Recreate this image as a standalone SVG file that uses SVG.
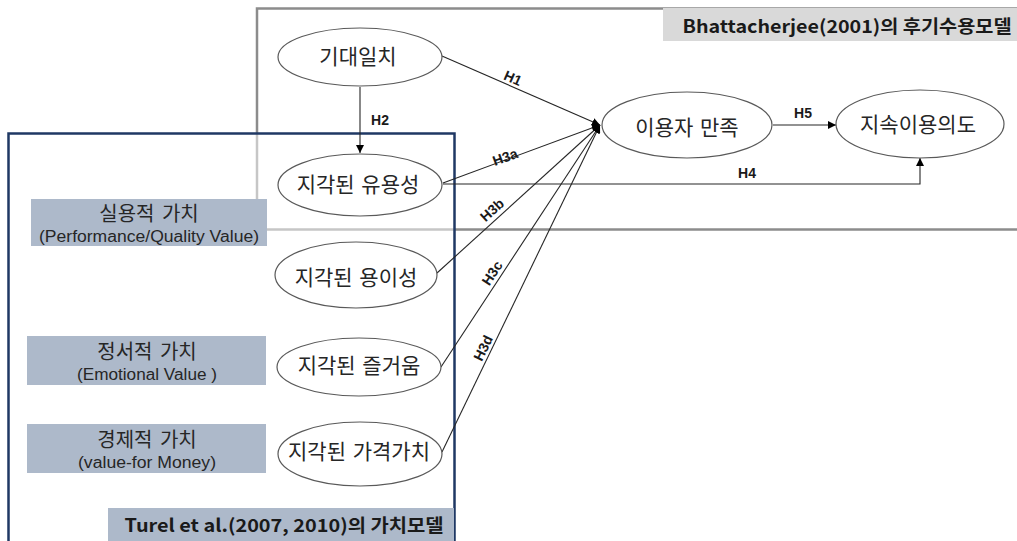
<svg xmlns="http://www.w3.org/2000/svg" width="1017" height="541" viewBox="0 0 1017 541">
<style>
.node{fill:#ffffff;stroke:#595959;stroke-width:1.2}
.nt{font-family:"Noto Sans CJK KR","Liberation Sans",sans-serif;font-size:21px;fill:#262626;text-anchor:middle;dominant-baseline:central;word-spacing:2px}
.lbl{fill:#adb9ca}
.lt{font-family:"Noto Sans CJK KR","Liberation Sans",sans-serif;font-size:20px;fill:#262626;text-anchor:middle;dominant-baseline:central;word-spacing:3px}
.ls{font-family:"Liberation Sans",Arial,sans-serif;font-size:16px;fill:#262626;text-anchor:middle;dominant-baseline:central}
.hd{font-family:"Noto Sans CJK KR","Liberation Sans",sans-serif;font-size:18px;font-weight:bold;fill:#1a1a1a;text-anchor:middle;dominant-baseline:central}
.conn{fill:none;stroke:#262626;stroke-width:1.1}
.h{font-family:"Liberation Sans",Arial,sans-serif;font-size:14px;font-weight:bold;fill:#1a1a1a;text-anchor:middle;dominant-baseline:central}
</style>
<defs>
<marker id="arr" viewBox="0 0 10 10" refX="10" refY="5" markerWidth="8" markerHeight="8" markerUnits="userSpaceOnUse" orient="auto">
<path d="M0,0 L10,5 L0,10 z" fill="#000"/>
</marker>
</defs>
<rect width="1017" height="541" fill="#ffffff"/>
<g id="frame-bhattacherjee">
<rect x="257" y="8.5" width="780" height="221" fill="none" stroke="#8c8c8c" stroke-width="2.5"/>
<rect x="663" y="8" width="354" height="33" fill="#d9d9d9"/>
<text class="hd" x="847" y="25" textLength="329" lengthAdjust="spacingAndGlyphs">Bhattacherjee(2001)의  후기수용모델</text>
</g>
<g id="frame-turel">
<rect x="8.5" y="133.5" width="446" height="430" fill="#ffffff" fill-opacity="0.5" stroke="#1f3864" stroke-width="2.5"/>
<rect x="108" y="508" width="346" height="33" fill="#adb9ca"/>
<text class="hd" x="284" y="524" textLength="319" lengthAdjust="spacingAndGlyphs">Turel et al.(2007,  2010)의  가치모델</text>
</g>
<g id="label-practical">
<rect class="lbl" x="31" y="199" width="236" height="47"/>
<text class="lt" x="149" y="212">실용적 가치</text>
<text class="ls" x="149" y="236" textLength="220" lengthAdjust="spacingAndGlyphs">(Performance/Quality Value)</text>
</g>
<g id="label-emotional">
<rect class="lbl" x="27" y="336" width="239" height="49"/>
<text class="lt" x="147" y="350">정서적 가치</text>
<text class="ls" x="147" y="374" textLength="140" lengthAdjust="spacingAndGlyphs">(Emotional Value )</text>
</g>
<g id="label-economic">
<rect class="lbl" x="27" y="424" width="239" height="49"/>
<text class="lt" x="147" y="438">경제적 가치</text>
<text class="ls" x="147" y="462" textLength="138" lengthAdjust="spacingAndGlyphs">(value-for Money)</text>
</g>
<g id="connectors">
<line class="conn" x1="442" y1="56" x2="600" y2="125" marker-end="url(#arr)"/>
<line class="conn" x1="360" y1="87" x2="360" y2="153" marker-end="url(#arr)"/>
<line class="conn" x1="443" y1="183" x2="600" y2="125" marker-end="url(#arr)"/>
<polyline class="conn" points="443,184 920,184 920,158" marker-end="url(#arr)"/>
<line class="conn" x1="437" y1="273" x2="600" y2="125" marker-end="url(#arr)"/>
<line class="conn" x1="441" y1="367" x2="600" y2="125" marker-end="url(#arr)"/>
<line class="conn" x1="442" y1="452" x2="600" y2="125" marker-end="url(#arr)"/>
<line class="conn" x1="773" y1="125" x2="836" y2="125" marker-end="url(#arr)"/>
<text class="h" transform="translate(513,78) rotate(24)">H1</text>
<text class="h" x="380" y="120">H2</text>
<text class="h" transform="translate(505,157) rotate(-20)">H3a</text>
<text class="h" transform="translate(492,210) rotate(-42)">H3b</text>
<text class="h" transform="translate(492,273) rotate(-57)">H3c</text>
<text class="h" transform="translate(483,348) rotate(-64)">H3d</text>
<text class="h" x="747" y="173">H4</text>
<text class="h" x="803" y="113">H5</text>
</g>
<g id="node-expectation">
<ellipse class="node" cx="360" cy="57" rx="82" ry="29"/>
<text class="nt" x="358" y="55">기대일치</text>
</g>
<g id="node-usefulness">
<ellipse class="node" cx="360" cy="185" rx="82" ry="31"/>
<text class="nt" x="358" y="183">지각된 유용성</text>
</g>
<g id="node-ease">
<ellipse class="node" cx="356" cy="275" rx="81" ry="33"/>
<text class="nt" x="356" y="276">지각된 용이성</text>
</g>
<g id="node-enjoyment">
<ellipse class="node" cx="359" cy="367" rx="82" ry="29"/>
<text class="nt" x="359" y="364">지각된 즐거움</text>
</g>
<g id="node-price">
<ellipse class="node" cx="360" cy="454" rx="82" ry="32"/>
<text class="nt" x="359" y="450">지각된 가격가치</text>
</g>
<g id="node-satisfaction">
<ellipse class="node" cx="687" cy="125" rx="85" ry="33"/>
<text class="nt" x="687" y="126">이용자 만족</text>
</g>
<g id="node-continuance">
<ellipse class="node" cx="920" cy="124" rx="84" ry="34"/>
<text class="nt" x="918" y="123">지속이용의도</text>
</g>
</svg>
